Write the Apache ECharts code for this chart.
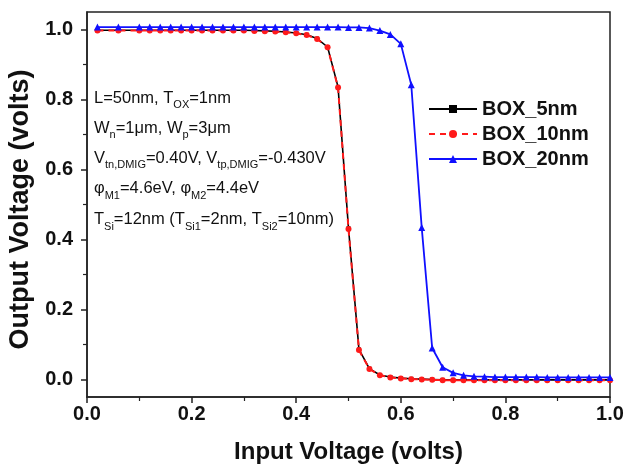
<!DOCTYPE html>
<html><head><meta charset="utf-8">
<script src="https://cdn.jsdelivr.net/npm/echarts@6/dist/echarts.min.js"></script>
<style>html,body{margin:0;padding:0;background:#fff}#c{width:627px;height:467px}</style>
</head><body><div id="c"></div>
<script>
var xs = [0.02,0.06,0.10,0.12,0.14,0.16,0.18,0.20,0.22,0.24,0.26,0.28,0.30,0.32,0.34,0.36,0.38,0.40,0.42,0.44,0.46,0.48,0.50,0.52,0.54,0.56,0.58,0.60,0.62,0.64,0.66,0.68,0.70,0.72,0.74,0.76,0.78,0.80,0.82,0.84,0.86,0.88,0.90,0.92,0.94,0.96,0.98,1.00];
var box5 = [0.998,0.998,0.998,0.998,0.998,0.998,0.998,0.998,0.998,0.998,0.998,0.998,0.998,0.997,0.996,0.995,0.993,0.990,0.985,0.974,0.950,0.836,0.432,0.086,0.031,0.013,0.007,0.004,0.002,0.001,0.000,-0.001,-0.001,-0.001,-0.001,-0.001,-0.001,-0.001,-0.001,-0.001,-0.001,-0.001,-0.001,-0.001,-0.001,-0.001,-0.001,-0.001];
var box10 = [0.997,0.997,0.997,0.997,0.997,0.997,0.997,0.997,0.997,0.997,0.997,0.997,0.997,0.996,0.995,0.994,0.992,0.989,0.984,0.973,0.949,0.834,0.430,0.084,0.030,0.012,0.006,0.003,0.001,0.000,-0.001,-0.002,-0.002,-0.002,-0.002,-0.002,-0.002,-0.002,-0.002,-0.002,-0.002,-0.002,-0.002,-0.002,-0.002,-0.002,-0.002,-0.002];
var box20 = [1.007,1.007,1.007,1.007,1.007,1.007,1.007,1.007,1.007,1.007,1.007,1.007,1.007,1.007,1.007,1.007,1.007,1.007,1.007,1.007,1.007,1.007,1.006,1.006,1.004,0.997,0.986,0.959,0.842,0.434,0.090,0.035,0.019,0.012,0.009,0.008,0.007,0.007,0.007,0.007,0.007,0.006,0.006,0.006,0.006,0.006,0.006,0.006];
var names = ['BOX_5nm','BOX_10nm','BOX_20nm'];
var xTicks = [0,0.2,0.4,0.6,0.8,1.0];
var yTicks = [0,0.2,0.4,0.6,0.8,1.0];
var yMinor = [0.1,0.3,0.5,0.7,0.9];
var notes = [
  '{n|L=50nm, T}{s|OX}{n|=1nm}',
  '{n|W}{s|n}{n|=1μm, W}{s|p}{n|=3μm}',
  '{n|V}{s|tn,DMIG}{n|=0.40V, V}{s|tp,DMIG}{n|=-0.430V}',
  '{n|φ}{s|M1}{n|=4.6eV, φ}{s|M2}{n|=4.4eV}',
  '{n|T}{s|Si}{n|=12nm (T}{s|Si1}{n|=2nm, T}{s|Si2}{n|=10nm)}'
];
function pairs(ys){ return xs.map(function(x,i){ return [x, ys[i]]; }); }
var FF = 'Liberation Sans, Arial, sans-serif';
var chart = echarts.init(document.getElementById('c'), null, {renderer:'canvas'});
var rich = {
  n: {fontSize:16.5, fontFamily:FF, color:'#111', lineHeight:19, verticalAlign:'top'},
  s: {fontSize:11, fontFamily:FF, color:'#111', lineHeight:12, padding:[10,0,0,0], verticalAlign:'top'}
};
var noteY = [89.5, 119.5, 149.5, 180, 211];
var graphics = notes.map(function(t,i){
  return {type:'text', left:94, top:noteY[i], style:{text:t, rich:rich, fill:'#111'}};
});
chart.setOption({
  animation:false,
  backgroundColor:'#fff',
  grid:{left:87, right:17, top:12, bottom:70, outerBoundsMode:'none', containLabel:false,
    show:true, borderColor:'#222', borderWidth:1.5, backgroundColor:'transparent'},
  legend:{
    data:names, orient:'vertical', left:423, top:94, itemWidth:48, itemHeight:10, itemGap:5,
    textStyle:{fontSize:20, fontWeight:'bold', fontFamily:FF, color:'#111', padding:[0,0,0,0]}
  },
  graphic:graphics,
  xAxis:{
    type:'value', min:0, max:1, interval:0.2,
    name:'Input Voltage (volts)', nameLocation:'middle', nameGap:43,
    nameTextStyle:{fontSize:24, fontWeight:'bold', fontFamily:FF, color:'#111'},
    axisLine:{onZero:false, lineStyle:{color:'#222', width:1.5}},
    axisTick:{inside:false, length:6, lineStyle:{color:'#222', width:1.5}},
    minorTick:{show:true, splitNumber:2, length:4, lineStyle:{color:'#222', width:1.2}},
    axisLabel:{fontSize:20, fontWeight:'bold', fontFamily:FF, color:'#111', margin:7,
      formatter:function(v){return v.toFixed(1);}},
    splitLine:{show:false}
  },
  yAxis:[{
    type:'value', min:-0.05, max:1.05,
    name:'Output Voltage (volts)', nameLocation:'middle', nameGap:51,
    nameTextStyle:{fontSize:27, fontWeight:'bold', fontFamily:FF, color:'#111', padding:[0,10,0,0]},
    axisLine:{show:true, onZero:false, lineStyle:{color:'#222', width:1.5}},
    axisTick:{show:true, length:6, customValues:yTicks, lineStyle:{color:'#222', width:1.5}},
    axisLabel:{fontSize:20, fontWeight:'bold', fontFamily:FF, color:'#111', margin:14, customValues:yTicks,
      formatter:function(v){return (+v).toFixed(1);}},
    splitLine:{show:false}
  },{
    type:'value', min:-0.05, max:1.05, position:'left',
    axisLine:{show:false, onZero:false},
    axisTick:{show:true, length:4, customValues:yMinor, lineStyle:{color:'#222', width:1.2}},
    axisLabel:{show:false},
    splitLine:{show:false}
  }],
  series:[
    {name:names[0], type:'line', data:pairs(box5), symbol:'rect', symbolSize:4, showSymbol:true,
      lineStyle:{color:'#000', width:1.6}, itemStyle:{color:'#000'}, z:2},
    {name:names[1], type:'line', data:pairs(box10), symbol:'circle', symbolSize:6,
      lineStyle:{color:'#ff1a1a', width:2, type:[6,5]}, itemStyle:{color:'#ff1a1a'}, z:3},
    {name:names[2], type:'line', data:pairs(box20), symbol:'triangle', symbolSize:7,
      lineStyle:{color:'#1010ff', width:1.8}, itemStyle:{color:'#1010ff'}, z:4}
  ]
});
</script></body></html>
